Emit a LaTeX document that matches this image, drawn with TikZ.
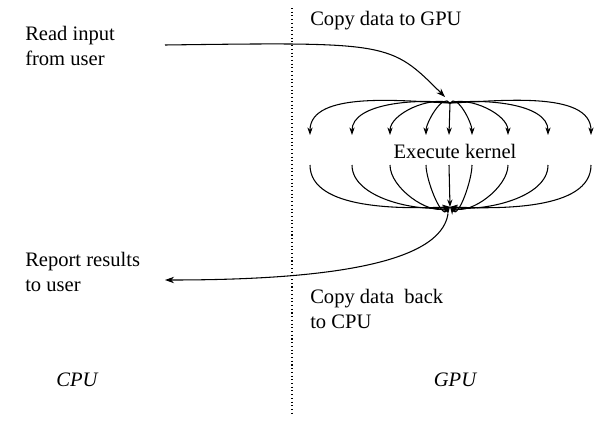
\documentclass[tikz,border=0pt]{standalone}
\usepackage{fontspec}
\setmainfont{Liberation Serif}
\usetikzlibrary{arrows.meta}
\tikzset{
    txt/.style={font=\fontsize{15.5}{19}\selectfont, align=left, inner sep=0pt},
    flow/.style={-{Stealth[length=2.4mm,width=1.7mm]}, thick},
    fan/.style={-{Stealth[length=2mm,width=1.4mm]}, thick}
}
\begin{document}
\begin{tikzpicture}[x=0.0265cm, y=-0.0265cm]
    \useasboundingbox (0,0) rectangle (600,429);
    % Divider
    \draw[dotted, thick] (292,8) -- (292,415);

    % Labels
    \node[txt, anchor=north west] (read) at (25,26) {Read input\\from user};
    \node[txt, anchor=north west] (copyin) at (310,11) {Copy data to GPU};
    \node[txt] (kernel) at (455,151) {Execute kernel};
    \node[txt, anchor=north west] (report) at (25,252) {Report results\\to user};
    \node[txt, anchor=north west] (copyout) at (310,289) {Copy data\ \ back\\to CPU};
    \node[txt, font=\fontsize{15.5}{19}\selectfont\itshape] (cpu) at (77,380) {CPU};
    \node[txt, font=\fontsize{15.5}{19}\selectfont\itshape] (gpu) at (455,380) {GPU};

    % Fan points
    \coordinate (src) at (450,103);
    \coordinate (sink) at (450,207);
    \coordinate (start) at (165,45);
    \coordinate (back) at (448,214);
    \coordinate (finish) at (165,280);

    \draw[flow] (start) .. controls (390,42) .. (445,97);
    \draw[flow] (back) .. controls (440,265) and (320,280) .. (finish);

    % Fan out and fan in
    \foreach \x/\a in {310/178,352/172,390/160,426/125} {
        \draw[fan] (src) to[out=\a, in=90, looseness=0.8] (\x,135);
        \draw[fan] (\x,165) to[out=-90, in=-\a, looseness=0.8] (sink);
    }
    \foreach \x/\a in {472/55,508/20,548/8,591/2} {
        \draw[fan] (src) to[out=\a, in=90, looseness=0.8] (\x,135);
        \draw[fan] (\x,165) to[out=-90, in=-\a, looseness=0.8] (sink);
    }
    \draw[fan] (src) -- (449,135);
    \draw[fan] (449,165) -- (sink);
\end{tikzpicture}
\end{document}
